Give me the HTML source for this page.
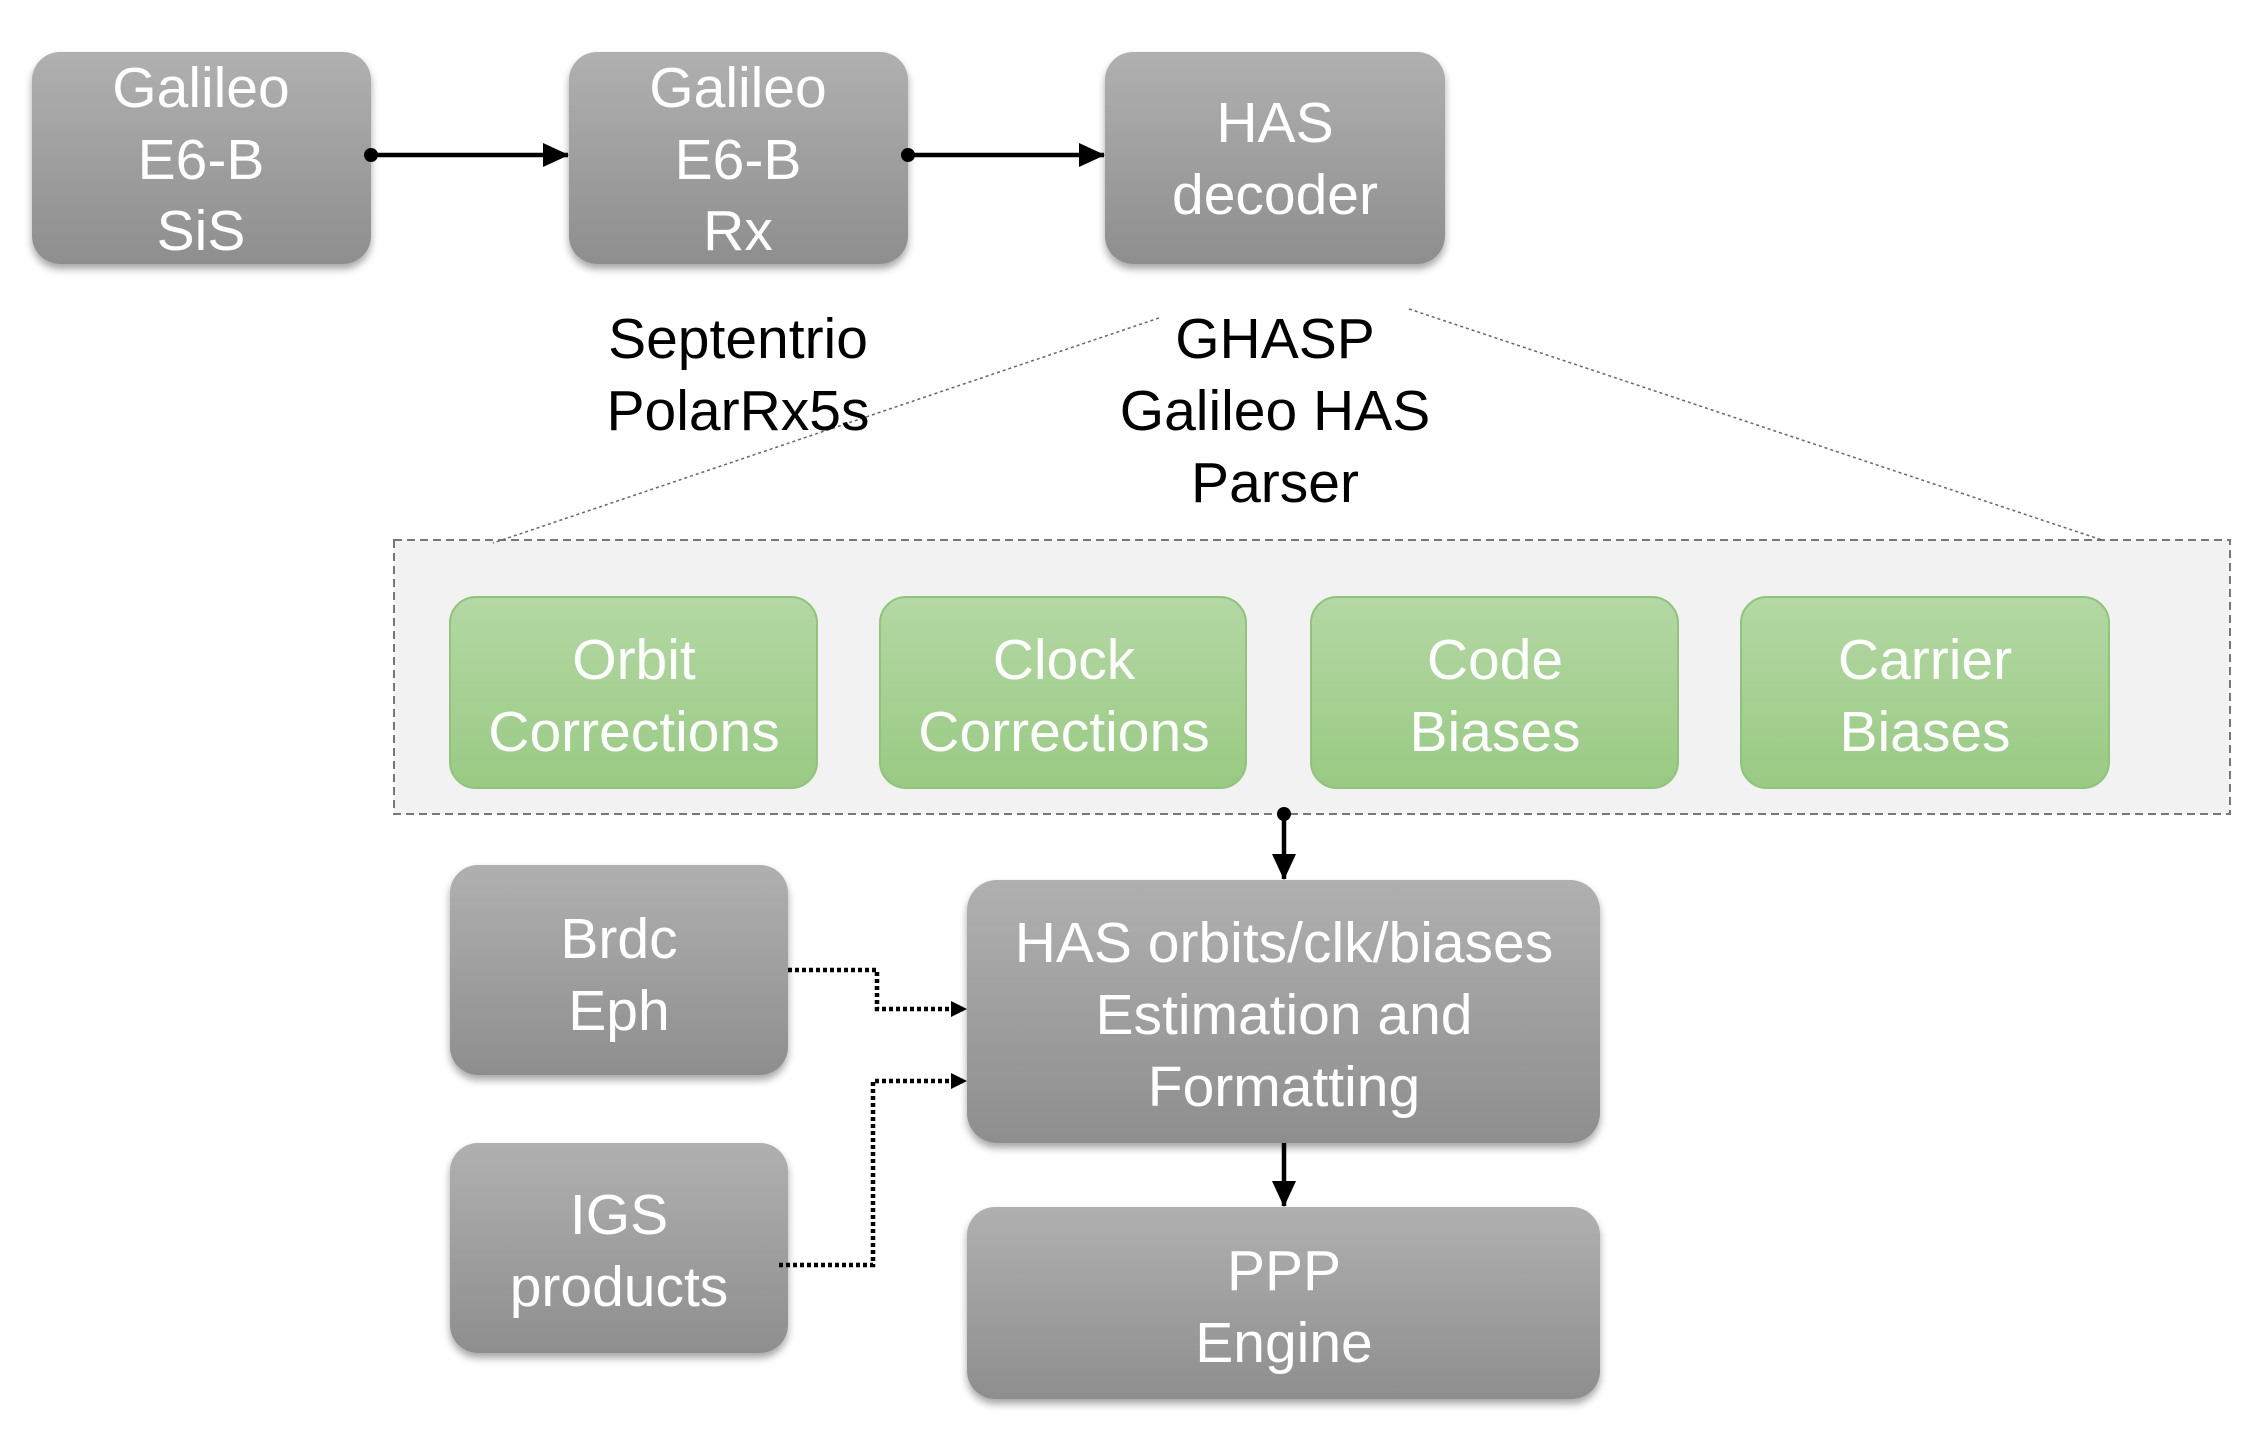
<!DOCTYPE html>
<html><head><meta charset="utf-8"><style>
html,body{margin:0;padding:0;background:#fff;}
svg{display:block;}
text{font-family:"Liberation Sans",Arial,sans-serif;}
</style></head><body>
<svg width="2254" height="1430" viewBox="0 0 2254 1430" xmlns="http://www.w3.org/2000/svg">
<defs>
<linearGradient id="g" x1="0" y1="0" x2="0" y2="1"><stop offset="0" stop-color="#b0b0b0"/><stop offset="1" stop-color="#8e8e8e"/></linearGradient>
<linearGradient id="gr" x1="0" y1="0" x2="0" y2="1"><stop offset="0" stop-color="#b4d8a4"/><stop offset="1" stop-color="#99ca83"/></linearGradient>
<filter id="sh" x="-10%" y="-10%" width="120%" height="130%"><feDropShadow dx="0" dy="5" stdDeviation="4" flood-color="#000" flood-opacity="0.35"/></filter>
<marker id="ar" markerWidth="26" markerHeight="24" refX="25" refY="12" orient="auto" markerUnits="userSpaceOnUse"><path d="M0,0 L26,12 L0,24 z" fill="#000"/></marker>
<marker id="ar2" markerWidth="16" markerHeight="16" refX="15" refY="8" orient="auto" markerUnits="userSpaceOnUse"><path d="M0,0 L16,8 L0,16 z" fill="#000"/></marker>
</defs>

<rect x="394" y="540" width="1836" height="274" fill="#f2f2f2" stroke="#777" stroke-width="2" stroke-dasharray="8,5"/>
<line x1="1159" y1="318" x2="493" y2="543" stroke="#666" stroke-width="1.5" stroke-dasharray="3,3"/>
<line x1="1409" y1="309" x2="2102" y2="540" stroke="#666" stroke-width="1.5" stroke-dasharray="3,3"/>

<g filter="url(#sh)" fill="url(#g)">
<rect x="32" y="52" width="339" height="212" rx="28"/>
<rect x="569" y="52" width="339" height="212" rx="28"/>
<rect x="1105" y="52" width="340" height="212" rx="28"/>
<rect x="450" y="865" width="338" height="210" rx="28"/>
<rect x="450" y="1143" width="338" height="210" rx="28"/>
<rect x="967" y="880" width="633" height="263" rx="30"/>
<rect x="967" y="1207" width="633" height="192" rx="28"/>
</g>
<g fill="url(#gr)" stroke="#8fc47a" stroke-width="2">
<rect x="450" y="597" width="367" height="191" rx="26"/>
<rect x="880" y="597" width="366" height="191" rx="26"/>
<rect x="1311" y="597" width="367" height="191" rx="26"/>
<rect x="1741" y="597" width="368" height="191" rx="26"/>
</g>

<g fill="#fff" font-size="57" text-anchor="middle">
<text x="201" y="107">Galileo</text><text x="201" y="179">E6-B</text><text x="201" y="250">SiS</text>
<text x="738" y="107">Galileo</text><text x="738" y="179">E6-B</text><text x="738" y="250">Rx</text>
<text x="1275" y="142">HAS</text><text x="1275" y="214">decoder</text>
<text x="634" y="679">Orbit</text><text x="634" y="751">Corrections</text>
<text x="1064" y="679">Clock</text><text x="1064" y="751">Corrections</text>
<text x="1495" y="679">Code</text><text x="1495" y="751">Biases</text>
<text x="1925" y="679">Carrier</text><text x="1925" y="751">Biases</text>
<text x="619" y="958">Brdc</text><text x="619" y="1030">Eph</text>
<text x="619" y="1234">IGS</text><text x="619" y="1306">products</text>
<text x="1284" y="962">HAS orbits/clk/biases</text><text x="1284" y="1034">Estimation and</text><text x="1284" y="1106">Formatting</text>
<text x="1284" y="1290">PPP</text><text x="1284" y="1362">Engine</text>
</g>
<g fill="#000" font-size="57" text-anchor="middle">
<text x="738" y="358">Septentrio</text><text x="738" y="430">PolarRx5s</text>
<text x="1275" y="358">GHASP</text><text x="1275" y="430">Galileo HAS</text><text x="1275" y="502">Parser</text>
</g>

<g stroke="#000" stroke-width="4.5" fill="none">
<line x1="371" y1="155" x2="568" y2="155" marker-end="url(#ar)"/>
<line x1="908" y1="155" x2="1104" y2="155" marker-end="url(#ar)"/>
<line x1="1284" y1="814" x2="1284" y2="879" marker-end="url(#ar)"/>
<line x1="1284" y1="1143" x2="1284" y2="1206" marker-end="url(#ar)"/>
</g>
<g fill="#000">
<circle cx="371" cy="155" r="7"/><circle cx="908" cy="155" r="7"/><circle cx="1284" cy="814" r="7"/>
</g>
<g stroke="#000" stroke-width="4.5" fill="none" stroke-dasharray="4,3">
<polyline points="788,970 877,970 877,1009 966,1009" marker-end="url(#ar2)"/>
<polyline points="779,1265 873,1265 873,1081 966,1081" marker-end="url(#ar2)"/>
</g>
</svg>
</body></html>
